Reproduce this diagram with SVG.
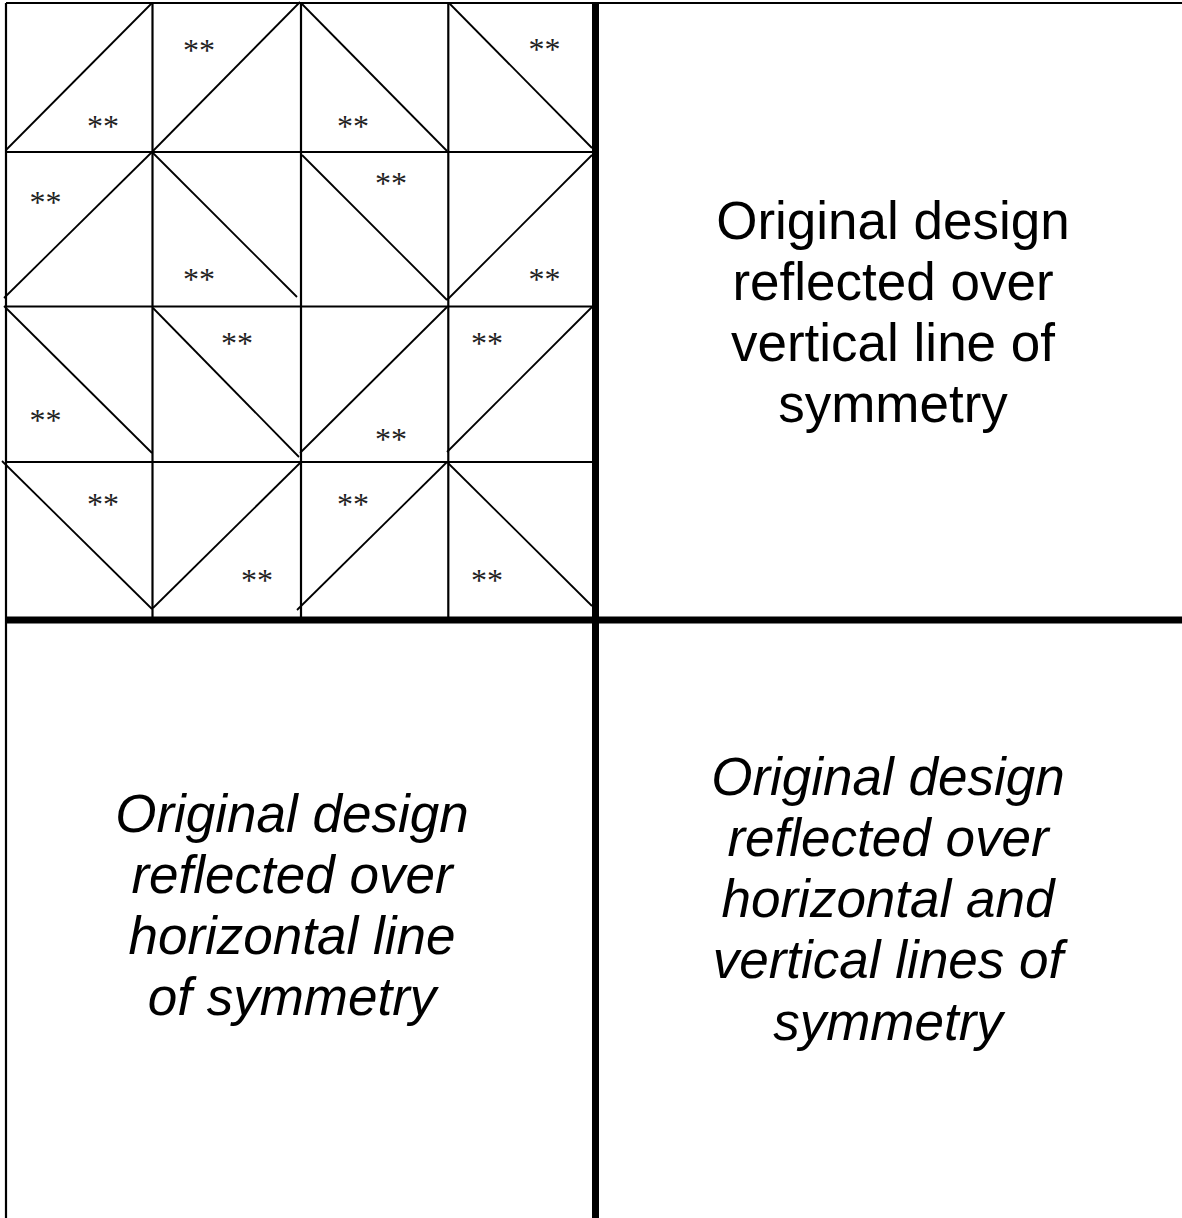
<svg xmlns="http://www.w3.org/2000/svg" width="1182" height="1218" viewBox="0 0 1182 1218">
<style>
.grid{stroke:#000;stroke-width:2.2;fill:none}
.diag{stroke:#000;stroke-width:1.8;fill:none}
.thick{stroke:#000;stroke-width:7;fill:none}
.ast{font-family:"Liberation Serif","Times New Roman",serif;font-size:32px;fill:#222;text-anchor:middle}
.lbl{font-family:"Liberation Sans",Arial,sans-serif;font-size:53px;fill:#000;text-anchor:middle}
.it{font-style:italic}
</style>
<rect x="0" y="0" width="1182" height="1218" fill="#fff"/>
<g id="design">
  <g id="grid-lines">
    <line class="grid" x1="6" y1="3" x2="1182" y2="3"/>
    <line class="grid" x1="6" y1="3" x2="6" y2="1218"/>
    <line class="grid" x1="152.5" y1="3" x2="152.5" y2="617"/>
    <line class="grid" x1="301" y1="3" x2="301" y2="617"/>
    <line class="grid" x1="448.3" y1="3" x2="448.3" y2="617"/>
    <line class="grid" x1="6" y1="152" x2="594" y2="152"/>
    <line class="grid" x1="6" y1="306.5" x2="594" y2="306.5"/>
    <line class="grid" x1="6" y1="462" x2="594" y2="462"/>
  </g>
  <g id="diagonals">
    <line class="diag" x1="6" y1="150" x2="152" y2="3"/>
    <line class="diag" x1="152" y1="152" x2="300" y2="2"/>
    <line class="diag" x1="301" y1="3" x2="447" y2="151"/>
    <line class="diag" x1="449" y1="3" x2="592" y2="148"/>
    <line class="diag" x1="4" y1="298" x2="152" y2="152"/>
    <line class="diag" x1="152" y1="152" x2="297" y2="297"/>
    <line class="diag" x1="302" y1="155" x2="447" y2="300"/>
    <line class="diag" x1="447" y1="300" x2="592" y2="155"/>
    <line class="diag" x1="4" y1="306" x2="152" y2="453"/>
    <line class="diag" x1="153" y1="308" x2="299" y2="457"/>
    <line class="diag" x1="300" y1="453" x2="447" y2="307"/>
    <line class="diag" x1="447" y1="452" x2="592" y2="307"/>
    <line class="diag" x1="2" y1="461" x2="152" y2="609"/>
    <line class="diag" x1="153" y1="608" x2="300" y2="463"/>
    <line class="diag" x1="297" y1="610" x2="447" y2="462"/>
    <line class="diag" x1="448" y1="463" x2="592" y2="606"/>
  </g>
  <g id="marks">
    <text class="ast" x="103" y="137">**</text>
    <text class="ast" x="199" y="61">**</text>
    <text class="ast" x="353" y="137">**</text>
    <text class="ast" x="544.5" y="60">**</text>
    <text class="ast" x="45.5" y="213">**</text>
    <text class="ast" x="199" y="290">**</text>
    <text class="ast" x="391" y="194">**</text>
    <text class="ast" x="544.5" y="290">**</text>
    <text class="ast" x="45.5" y="431">**</text>
    <text class="ast" x="237" y="354">**</text>
    <text class="ast" x="391" y="450">**</text>
    <text class="ast" x="487" y="354">**</text>
    <text class="ast" x="103" y="515">**</text>
    <text class="ast" x="257" y="591">**</text>
    <text class="ast" x="353" y="515">**</text>
    <text class="ast" x="487" y="591">**</text>
  </g>
</g>
<g id="dividers">
  <line class="thick" x1="595.5" y1="3" x2="595.5" y2="1218"/>
  <line class="thick" x1="6" y1="620" x2="1182" y2="620"/>
</g>
<g id="panel-vertical">
  <text class="lbl" x="893" y="239">Original design</text>
  <text class="lbl" x="893" y="300">reflected over</text>
  <text class="lbl" x="893" y="361">vertical line of</text>
  <text class="lbl" x="893" y="422">symmetry</text>
</g>
<g id="panel-horizontal">
  <text class="lbl it" x="292" y="832">Original design</text>
  <text class="lbl it" x="292" y="893">reflected over</text>
  <text class="lbl it" x="292" y="954">horizontal line</text>
  <text class="lbl it" x="292" y="1015">of symmetry</text>
</g>
<g id="panel-both">
  <text class="lbl it" x="888" y="795">Original design</text>
  <text class="lbl it" x="888" y="856">reflected over</text>
  <text class="lbl it" x="888" y="917">horizontal and</text>
  <text class="lbl it" x="888" y="978">vertical lines of</text>
  <text class="lbl it" x="888" y="1040">symmetry</text>
</g>
</svg>
